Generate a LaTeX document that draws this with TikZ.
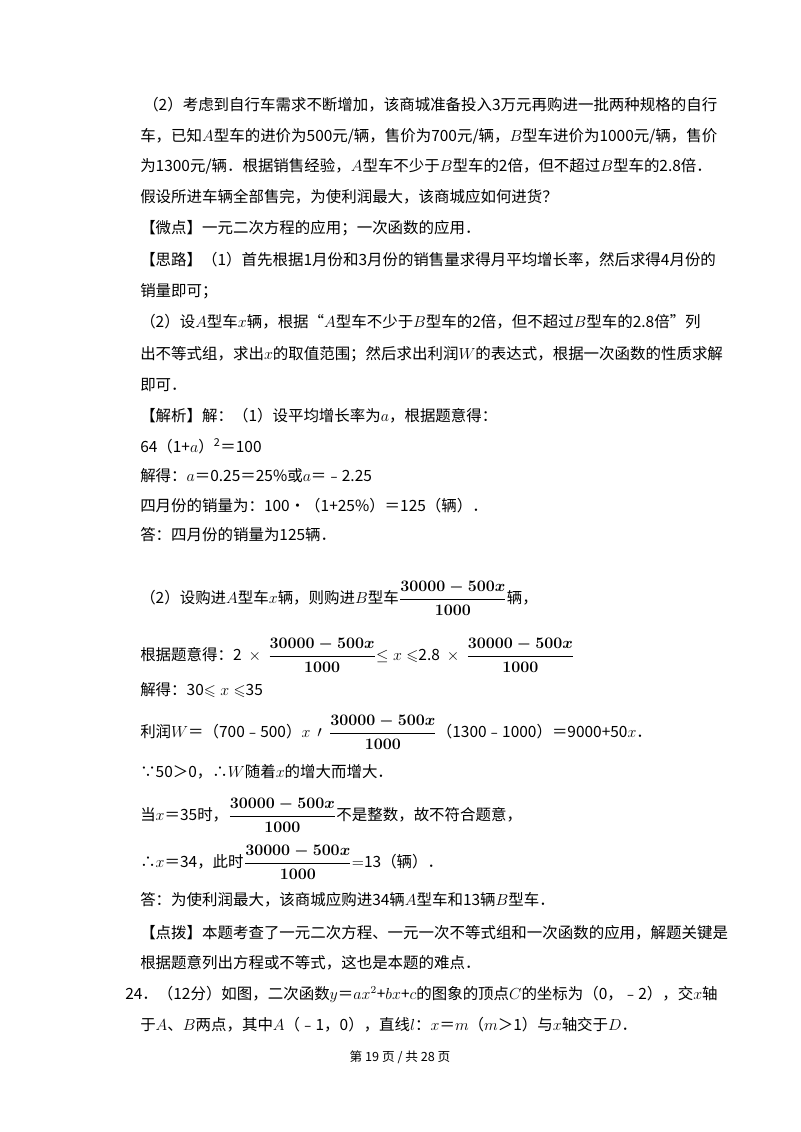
\documentclass[tikz,border=0pt]{standalone}
\usepackage{amsmath,amssymb}
\usepackage{fontspec}
\setmainfont{Noto Sans CJK SC}
\begin{document}
\begin{tikzpicture}[x=0.75pt,y=-0.75pt,
  txt/.style={anchor=west,inner sep=0pt,font=\fontsize{11.6}{14}\selectfont}]
\useasboundingbox[fill=white] (0,0) rectangle (800,1132);
\node[txt] (l1) at (143,105) {（2）考虑到自行车需求不断增加，该商城准备投入3万元再购进一批两种规格的自行};
\node[txt] (l2) at (140,136) {车，已知$A$型车的进价为500元/辆，售价为700元/辆，$B$型车进价为1000元/辆，售价};
\node[txt] (l3) at (140,166) {为1300元/辆．根据销售经验，$A$型车不少于$B$型车的2倍，但不超过$B$型车的2.8倍．};
\node[txt] (l4) at (140,197) {假设所进车辆全部售完，为使利润最大，该商城应如何进货？};
\node[txt] (l5) at (140,228) {【微点】一元二次方程的应用；一次函数的应用．};
\node[txt] (l6) at (140,260) {【思路】（1）首先根据1月份和3月份的销售量求得月平均增长率，然后求得4月份的};
\node[txt] (l7) at (140,291) {销量即可；};
\node[txt] (l8) at (140,322) {（2）设$A$型车$x$辆，根据“$A$型车不少于$B$型车的2倍，但不超过$B$型车的2.8倍”列};
\node[txt] (l9) at (140,354) {出不等式组，求出$x$的取值范围；然后求出利润$W$的表达式，根据一次函数的性质求解};
\node[txt] (l10) at (140,385) {即可．};
\node[txt] (l11) at (140,416) {【解析】解：（1）设平均增长率为$a$，根据题意得：};
\node[txt] (l12) at (140,446) {64（1+$a$）\textsuperscript{2}＝100};
\node[txt] (l13) at (140,476) {解得：$a$＝0.25＝25\%或$a$＝﹣2.25};
\node[txt] (l14) at (140,506) {四月份的销量为：100•（1+25\%）＝125（辆）．};
\node[txt] (l15) at (140,535) {答：四月份的销量为125辆．};
\node[txt] (l16) at (140,598) {（2）设购进$A$型车$x$辆，则购进$B$型车{\boldmath$\dfrac{30000-500x}{1000}$}辆，};
\node[txt] (l17) at (140,655) {根据题意得：2 \ $\times$ \ {\boldmath$\dfrac{30000-500x}{1000}$}$\le x\leqslant$2.8 \ $\times$ \ {\boldmath$\dfrac{30000-500x}{1000}$}};
\node[txt] (l18) at (140,690) {解得：30$\leqslant x\leqslant$35};
\node[txt] (l19) at (140,732) {利润$W$＝（700﹣500）$x$ \ $\prime$ \ {\boldmath$\dfrac{30000-500x}{1000}$}（1300﹣1000）＝9000+50$x$．};
\node[txt] (l20) at (140,772) {∵50＞0，∴$W$随着$x$的增大而增大．};
\node[txt] (l21) at (140,815) {当$x$＝35时，{\boldmath$\dfrac{30000-500x}{1000}$}不是整数，故不符合题意，};
\node[txt] (l22) at (140,862) {∴$x$＝34，此时{\boldmath$\dfrac{30000-500x}{1000}$}$=$13（辆）．};
\node[txt] (l23) at (140,900) {答：为使利润最大，该商城应购进34辆$A$型车和13辆$B$型车．};
\node[txt] (l24) at (140,933) {【点拨】本题考查了一元二次方程、一元一次不等式组和一次函数的应用，解题关键是};
\node[txt] (l25) at (140,963) {根据题意列出方程或不等式，这也是本题的难点．};
\node[txt] (l26) at (125,994) {24．（12分）如图，二次函数$y$＝$ax^2$+$bx$+$c$的图象的顶点$C$的坐标为（0，﹣2），交$x$轴};
\node[txt] (l27) at (140,1025) {于$A$、$B$两点，其中$A$（﹣1，0），直线$l$：$x$＝$m$（$m$＞1）与$x$轴交于$D$．};
\node[inner sep=0pt,font=\fontsize{9.5}{11}\selectfont] (ft) at (400,1057) {第 19 页 / 共 28 页};
\end{tikzpicture}
\end{document}
